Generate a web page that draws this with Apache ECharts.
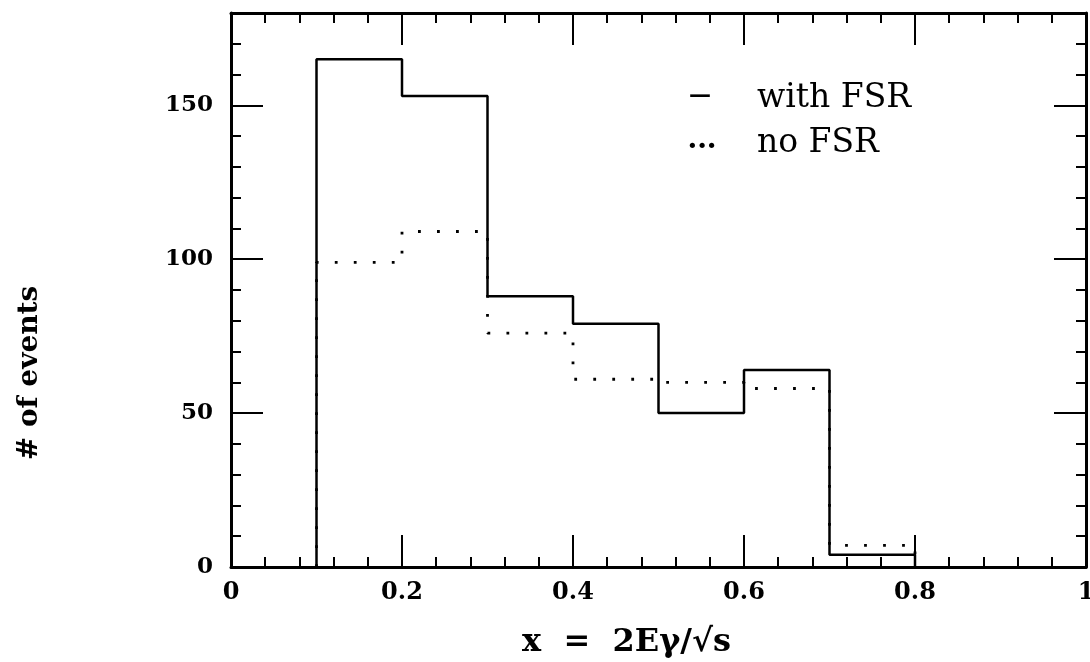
<!DOCTYPE html>
<html>
<head>
<meta charset="utf-8">
<script src="https://cdn.jsdelivr.net/npm/echarts@6/dist/echarts.min.js"></script>
<style>
  html, body { margin: 0; padding: 0; background: #ffffff; }
  #chart { width: 1090px; height: 662px; }
</style>
</head>
<body>
<div id="chart"></div>
<script>
// Histogram bin edges in x = 2E_gamma / sqrt(s)
const binEdges = [0.1, 0.2, 0.3, 0.4, 0.5, 0.6, 0.7, 0.8];
// Number of events per bin
const withFSR = [165, 153, 88, 79, 50, 64, 4];
const noFSR = [99, 109, 76, 61, 60, 58, 7];
// Labelled ticks
const xTickLabels = [0, 0.2, 0.4, 0.6, 0.8, 1];
const yTickLabels = [0, 50, 100, 150];

// Turn bin edges + counts into the outline of a step histogram
function stepOutline(edges, counts) {
  const pts = [[edges[0], 0]];
  counts.forEach((c, i) => {
    pts.push([edges[i], c], [edges[i + 1], c]);
  });
  pts.push([edges[edges.length - 1], 0]);
  return pts;
}

const FONT = '"DejaVu Serif", serif';
const INK = '#000000';

function xAxisDef(position, showLabels) {
  return {
    type: 'value', position: position, min: 0, max: 1, interval: 0.2,
    axisLine: { show: true, onZero: false, lineStyle: { color: INK, width: 3 } },
    axisTick: { show: true, inside: true, length: 32, lineStyle: { color: INK, width: 2 } },
    minorTick: { show: true, splitNumber: 5, length: 10, lineStyle: { color: INK, width: 2 } },
    splitLine: { show: false },
    axisLabel: {
      show: showLabels, margin: 14, color: INK, fontFamily: FONT, fontWeight: 'bold', fontSize: 24,
      formatter: v => xTickLabels.some(t => Math.abs(t - v) < 1e-9) ? String(+v.toFixed(1)) : ''
    }
  };
}

function yAxisDef(position, interval, tickLen, showLabels, showLine) {
  return {
    type: 'value', position: position, min: 0, max: 180, interval: interval,
    axisLine: { show: showLine, onZero: false, lineStyle: { color: INK, width: 3 } },
    axisTick: { show: true, inside: true, length: tickLen, lineStyle: { color: INK, width: 2 } },
    splitLine: { show: false },
    axisLabel: {
      show: showLabels, margin: 18, color: INK, fontFamily: FONT, fontWeight: 'bold', fontSize: 23,
      formatter: v => yTickLabels.indexOf(v) >= 0 ? String(v) : ''
    }
  };
}

const chart = echarts.init(document.getElementById('chart'), null, { renderer: 'canvas' });

chart.setOption({
  backgroundColor: '#ffffff',
  animation: false,
  grid: { left: 231, right: 4, top: 13, bottom: 95, containLabel: false, outerBoundsMode: 'none' },
  xAxis: [
    Object.assign(xAxisDef('bottom', true), {
      name: 'x  =  2Eγ/√s', nameLocation: 'middle', nameGap: 60,
      nameTextStyle: { color: INK, fontFamily: FONT, fontWeight: 'bold', fontSize: 32, padding: [0, 64, 0, 0] }
    }),
    xAxisDef('top', false)
  ],
  yAxis: [
    yAxisDef('left', 50, 32, true, true),
    yAxisDef('left', 10, 10, false, false),
    yAxisDef('right', 50, 32, false, true),
    yAxisDef('right', 10, 10, false, false)
  ],
  graphic: [
    {
      type: 'text', x: 30, y: 373, rotation: Math.PI / 2,
      style: { text: '# of events', fill: INK, font: 'bold 28px ' + FONT, align: 'center', verticalAlign: 'middle' }
    },
    {
      type: 'text', x: 700, y: 96,
      style: { text: '—', fill: INK, font: 'bold 22px ' + FONT, align: 'center', verticalAlign: 'middle' }
    },
    {
      type: 'text', x: 757, y: 98,
      style: { text: 'with FSR', fill: INK, font: '33px ' + FONT, align: 'left', verticalAlign: 'middle' }
    },
    {
      type: 'text', x: 702, y: 141,
      style: { text: '...', fill: INK, font: 'bold 28px ' + FONT, align: 'center', verticalAlign: 'middle' }
    },
    {
      type: 'text', x: 757, y: 143,
      style: { text: 'no FSR', fill: INK, font: '33px ' + FONT, align: 'left', verticalAlign: 'middle' }
    }
  ],
  series: [
    {
      name: 'with FSR', type: 'line', xAxisIndex: 0, yAxisIndex: 0,
      data: stepOutline(binEdges, withFSR),
      showSymbol: false, symbol: 'none', silent: true,
      lineStyle: { color: INK, width: 2.5, type: 'solid' }
    },
    {
      name: 'no FSR', type: 'line', xAxisIndex: 0, yAxisIndex: 0,
      data: stepOutline(binEdges, noFSR),
      showSymbol: false, symbol: 'none', silent: true,
      lineStyle: { color: INK, width: 2.8, type: [2.8, 16.2], cap: 'butt' }
    }
  ]
});
</script>
</body>
</html>
